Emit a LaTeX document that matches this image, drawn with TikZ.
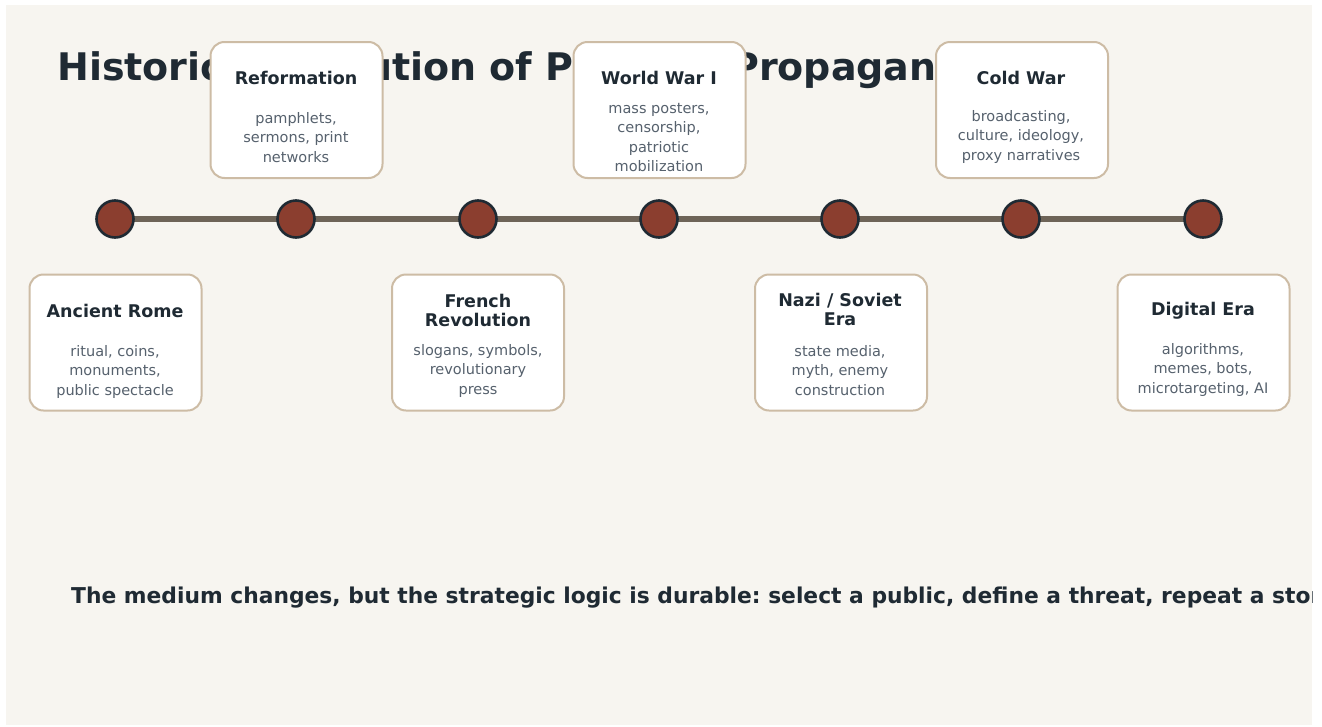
\documentclass[tikz,border=0pt]{standalone}
\usepackage{fontspec}
\setmainfont{DejaVu Sans}
\frenchspacing
\definecolor{bgc}{HTML}{F7F5F0}
\definecolor{ink}{HTML}{1F2A33}
\definecolor{linec}{HTML}{6E6458}
\definecolor{dotc}{HTML}{8B3E2F}
\definecolor{boxc}{HTML}{CDBCA5}
\definecolor{bodyc}{HTML}{56616D}
\tikzset{
  erabox/.style={draw=boxc, line width=2pt, fill=white, rounded corners=14pt, minimum width=172pt, minimum height=136pt, inner sep=0pt},
  eradot/.style={circle, draw=ink, line width=2.6pt, fill=dotc, minimum size=37pt, inner sep=0pt},
  titlel/.style={font=\fontsize{17.5}{19.5}\selectfont\bfseries, text=ink, anchor=base, inner sep=0pt},
  bodyl/.style={font=\fontsize{14.5}{19.5}\selectfont, text=bodyc, anchor=base, inner sep=0pt},
}
\newcommand\eralines[5]{% name, cx, first baseline, style, list
  \foreach \t [count=\k] in {#5} {
    \node[#4] (#1-\k) at (#2, {#3+(\k-1)*19.5}) {\t};
  }
}
\begin{document}
\begin{tikzpicture}[x=1pt,y=-1pt]
\useasboundingbox[fill=white] (0,0) rectangle (1322,726);
\fill[bgc] (6,5) rectangle (1312,725);
\begin{scope}
\clip (6,5) rectangle (1312,725);
\node[font=\fontsize{38}{44}\selectfont\bfseries, text=ink, anchor=base west, inner sep=0pt] (title) at (57,80) {Historical Evolution of Political Propaganda};
\node[font=\fontsize{21.8}{25}\selectfont\bfseries, text=ink, anchor=base west, inner sep=0pt] (summary) at (71,603) {The medium changes, but the strategic logic is durable: select a public, define a threat, repeat a story.};
\end{scope}
% timeline
\coordinate (ls) at (115,219);
\coordinate (le) at (1203,219);
\draw[linec, line width=6pt] (ls) -- (le);
\foreach \n/\x in {d1/115,d2/296,d3/478,d4/659,d5/840,d6/1021,d7/1203}
  \node[eradot] (\n) at (\x,219) {};
% boxes
\node[erabox] (rome) at (115.5,342.5) {};
\node[erabox] (refo) at (296.5,110) {};
\node[erabox] (fren) at (478,342.5) {};
\node[erabox] (wwi) at (659.5,110) {};
\node[erabox] (nazi) at (841,342.5) {};
\node[erabox] (cold) at (1022,110) {};
\node[erabox] (digi) at (1203.5,342.5) {};
% texts
\eralines{romet}{115}{317}{titlel}{{Ancient Rome}}
\eralines{romeb}{115}{356}{bodyl}{{ritual, coins,},{monuments,},{public spectacle}}
\eralines{refot}{296}{84}{titlel}{{Reformation}}
\eralines{refob}{296}{123}{bodyl}{{pamphlets,},{sermons, print},{networks}}
\eralines{frent}{478}{307}{titlel}{{French},{Revolution}}
\eralines{frenb}{478}{355}{bodyl}{{slogans, symbols,},{revolutionary},{press}}
\eralines{wwit}{659}{84}{titlel}{{World War I}}
\eralines{wwib}{659}{113}{bodyl}{{mass posters,},{censorship,},{patriotic},{mobilization}}
\eralines{nazit}{840}{306}{titlel}{{Nazi / Soviet},{Era}}
\eralines{nazib}{840}{356}{bodyl}{{state media,},{myth, enemy},{construction}}
\eralines{coldt}{1021}{84}{titlel}{{Cold War}}
\eralines{coldb}{1021}{121}{bodyl}{{broadcasting,},{culture, ideology,},{proxy narratives}}
\eralines{digit}{1203}{315}{titlel}{{Digital Era}}
\eralines{digib}{1203}{354}{bodyl}{{algorithms,},{memes, bots,},{microtargeting, AI}}
\end{tikzpicture}
\end{document}
